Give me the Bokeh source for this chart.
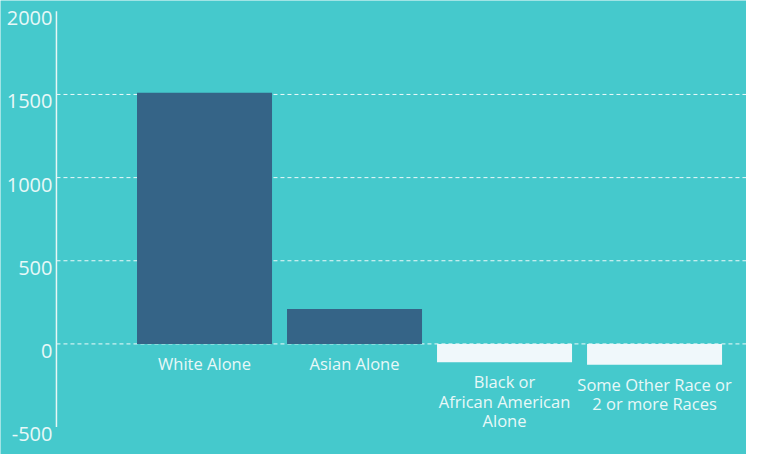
from bokeh.plotting import figure
from bokeh.models import Range1d, ColumnDataSource
from bokeh.core.properties import value
from bokeh.embed import file_html
from bokeh.resources import INLINE

# ---- data ----
categories = ["White Alone", "Asian Alone", "Black or\nAfrican American\nAlone",
              "Some Other Race or\n2 or more Races"]
counts = [1510, 210, -110, -125]
tick_values = [-500, 0, 500, 1000, 1500, 2000]
tick_labels = ["-500", "0", "500", "1000", "1500", "2000"]
grid_values = [0, 500, 1000, 1500]

BG = "#45c9cc"
DARK = "#356487"
LIGHT_BAR = "#f0f8fb"
TXT = "#e8f8f8"
FONT = "Open Sans"

x_start, x_end = -1.36, 3.613
axis_x = -0.987

p = figure(width=746, height=454, output_backend="svg", toolbar_location=None,
           x_range=Range1d(x_start, x_end), y_range=Range1d(-665, 2065),
           min_border=0, background_fill_color=BG, border_fill_color=BG)
p.axis.visible = False
p.grid.visible = False
p.outline_line_color = None

# gridlines
p.segment(x0=[axis_x] * len(grid_values), x1=[x_end] * len(grid_values),
          y0=grid_values, y1=grid_values, line_color="white", line_alpha=0.9,
          line_width=1, line_dash="4 3")

# axis line
p.segment(x0=[axis_x], x1=[axis_x], y0=[tick_values[0]], y1=[tick_values[-1]],
          line_color="#e6f6f6", line_width=1.5)

# bars
xs = list(range(len(categories)))
colors = [DARK if v >= 0 else LIGHT_BAR for v in counts]
src = ColumnDataSource(dict(x=xs, top=counts, color=colors, cat=categories,
                            lab_y=[min(0, v) for v in counts]))
p.vbar(x="x", top="top", bottom=0, width=0.9, fill_color="color", line_color=None, source=src)

# category labels
p.text(x="x", y="lab_y", text="cat", source=src, text_align="center", text_baseline="top",
       y_offset=8, text_font=value(FONT), text_font_size="16.5px", text_color=TXT,
       text_line_height=0.85)

# tick labels
p.text(x=[axis_x] * len(tick_values), y=tick_values, text=tick_labels, text_align="right",
       text_baseline="top", x_offset=-4, y_offset=0, text_font=value(FONT),
       text_font_size="20px", text_color=TXT)

open("out.html", "w").write(file_html(p, INLINE))
